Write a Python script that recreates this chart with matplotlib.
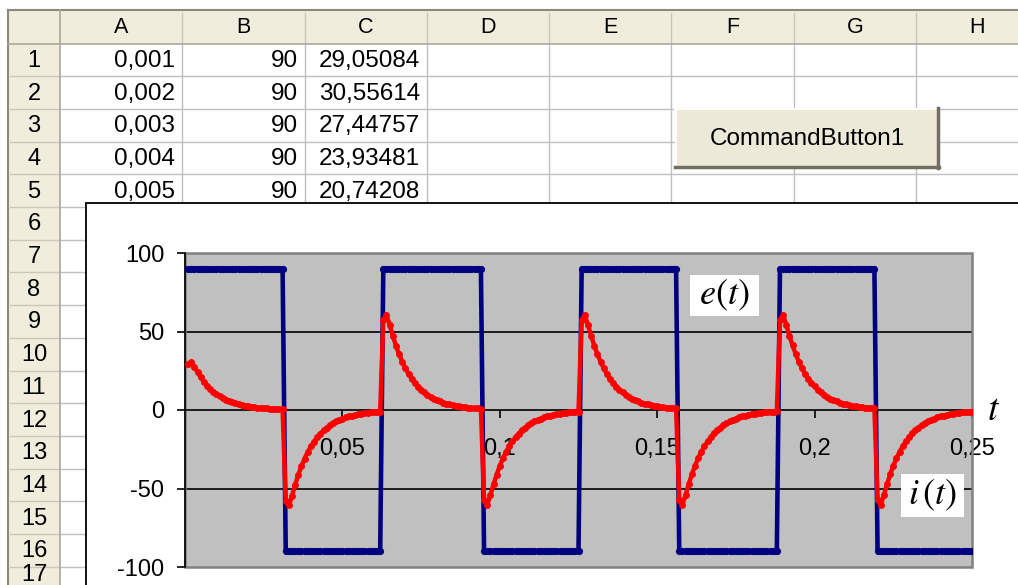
import numpy as np
import matplotlib.pyplot as plt
from matplotlib.patches import Rectangle

plt.rcParams['font.family'] = ['Liberation Sans', 'DejaVu Sans']
plt.rcParams['mathtext.fontset'] = 'stix'

# sheet data: A = t, B = e(t), C = i(t)
t = np.arange(1, 251) / 1000
e_t = ([90] * 31 + [-90] * 31 + [90] * 32 + [-90] * 31 +
       [90] * 31 + [-90] * 32 + [90] * 31 + [-90] * 31)
i_t = [
    29.05084, 30.55614, 27.44757, 23.93481, 20.74208, 17.97, 15.56, 13.46, 11.65, 10.09,
    8.73, 7.56, 6.54, 5.66, 4.90, 4.24, 3.67, 3.18, 2.75, 2.38,
    2.06, 1.78, 1.54, 1.33, 1.16, 1.00, 0.87, 0.75, 0.65, 0.56,
    0.49,
    -57.68, -60.74, -54.59, -47.61, -41.28, -35.74, -30.94, -26.77, -23.17, -20.07,
    -17.36, -15.04, -13.01, -11.26, -9.75, -8.43, -7.30, -6.33, -5.47, -4.73,
    -4.10, -3.54, -3.06, -2.64, -2.31, -1.99, -1.73, -1.49, -1.29, -1.11,
    -0.97,
    57.26, 60.37, 54.27, 47.34, 41.05, 35.53, 30.77, 26.61, 23.04, 19.95,
    17.26, 14.95, 12.93, 11.19, 9.69, 8.38, 7.26, 6.29, 5.44, 4.71,
    4.07, 3.52, 3.05, 2.63, 2.29, 1.98, 1.72, 1.48, 1.29, 1.11,
    0.97, 0.83,
    -57.38, -60.48, -54.36, -47.41, -41.12, -35.59, -30.82, -26.66, -23.07, -19.98,
    -17.29, -14.97, -12.95, -11.21, -9.71, -8.40, -7.27, -6.30, -5.45, -4.71,
    -4.08, -3.53, -3.05, -2.63, -2.30, -1.98, -1.72, -1.49, -1.29, -1.11,
    -0.97,
    57.27, 60.38, 54.28, 47.35, 41.06, 35.54, 30.78, 26.62, 23.05, 19.96,
    17.27, 14.96, 12.94, 11.20, 9.70, 8.39, 7.27, 6.30, 5.45, 4.72,
    4.08, 3.53, 3.05, 2.64, 2.29, 1.98, 1.72, 1.49, 1.29, 1.11,
    0.97,
    -57.27, -60.38, -54.28, -47.34, -41.06, -35.54, -30.77, -26.62, -23.04, -19.96,
    -17.27, -14.95, -12.94, -11.20, -9.69, -8.39, -7.26, -6.29, -5.44, -4.71,
    -4.08, -3.52, -3.05, -2.63, -2.30, -1.98, -1.72, -1.49, -1.29, -1.11,
    -0.97, -0.83,
    57.38, 60.48, 54.36, 47.41, 41.12, 35.59, 30.82, 26.66, 23.07, 19.98,
    17.29, 14.97, 12.95, 11.21, 9.71, 8.40, 7.27, 6.30, 5.45, 4.71,
    4.08, 3.53, 3.05, 2.63, 2.30, 1.98, 1.72, 1.49, 1.29, 1.11,
    0.97,
    -57.26, -60.37, -54.27, -47.34, -41.05, -35.53, -30.77, -26.61, -23.04, -19.95,
    -17.26, -14.95, -12.93, -11.19, -9.69, -8.38, -7.26, -6.29, -5.44, -4.71,
    -4.07, -3.52, -3.05, -2.63, -2.29, -1.98, -1.72, -1.48, -1.29, -1.11,
    -0.97,
]

col_names = ['A', 'B', 'C', 'D', 'E', 'F', 'G', 'H']
n_rows = 17
n_shown = 5  # rows of data visible above the chart

y_ticks = [-100, -50, 0, 50, 100]
x_ticks = [0.05, 0.1, 0.15, 0.2, 0.25]
x_labels = ['0,05', '0,1', '0,15', '0,2', '0,25']

W, H = 1018, 585
fig = plt.figure(figsize=(W / 100, H / 100), dpi=100)

# spreadsheet background, pixel coordinates
bg = fig.add_axes([0, 0, 1, 1], zorder=0)
bg.set_xlim(0, W)
bg.set_ylim(H, 0)
bg.axis('off')

head_col = '#F0EDDD'
grid_col = '#C0C0C0'
hdr_top, hdr_bot = 10, 43.5
row_h = 32.7
col_x = [60 + 122.3 * k for k in range(len(col_names) + 1)]
row_y = [hdr_bot + row_h * k for k in range(n_rows + 1)]

bg.add_patch(Rectangle((8, hdr_top), W, hdr_bot - hdr_top, fc=head_col, ec='none'))
bg.add_patch(Rectangle((8, hdr_bot), 52, H, fc=head_col, ec='none'))
for y in row_y[1:]:
    bg.plot([60, W], [y, y], color=grid_col, lw=1)
    bg.plot([10, 58], [y, y], color='#CBC7B8', lw=1)
for x in col_x[1:]:
    bg.plot([x, x], [hdr_bot, H], color=grid_col, lw=1)
    bg.plot([x, x], [hdr_top + 3, hdr_bot - 2], color='#CBC7B8', lw=1)
bg.plot([8, W], [hdr_top, hdr_top], color='#8C8A7E', lw=1.5)
bg.plot([8, 8], [hdr_top, H], color='#8C8A7E', lw=1.5)
bg.plot([8, W], [hdr_bot, hdr_bot], color='#ACA899', lw=1.2)
bg.plot([60, 60], [hdr_top, H], color='#ACA899', lw=1.2)

for k, name in enumerate(col_names):
    bg.text((col_x[k] + col_x[k + 1]) / 2, 27.5, name, ha='center', va='center', fontsize=15.5)
for r in range(n_rows):
    yc = min((row_y[r] + row_y[r + 1]) / 2 + 1, H - 10)
    bg.text(34, yc, str(r + 1), ha='center', va='center', fontsize=17)

for r in range(n_shown):
    yc = (row_y[r] + row_y[r + 1]) / 2 + 1
    cells = [f'{t[r]:.3f}'.replace('.', ','), str(e_t[r]), f'{i_t[r]:.5f}'.replace('.', ',')]
    for k, txt in enumerate(cells):
        bg.text(col_x[k + 1] - 7, yc, txt, ha='right', va='center', fontsize=17.5)

# command button
bx, by, bw, bh = 675, 108, 264, 60
bg.add_patch(Rectangle((bx, by), bw, bh, fc='#ECE9D8', ec='none', zorder=3))
bg.plot([bx, bx + bw], [by + 1, by + 1], color='white', lw=1.5, zorder=4)
bg.plot([bx + 1, bx + 1], [by, by + bh], color='white', lw=1.5, zorder=4)
bg.plot([bx, bx + bw], [by + bh - 1, by + bh - 1], color='#716F64', lw=2.5, zorder=4)
bg.plot([bx + bw - 1, bx + bw - 1], [by, by + bh], color='#716F64', lw=2.5, zorder=4)
bg.text(bx + bw / 2, by + bh / 2 + 1, 'CommandButton1', ha='center', va='center',
        fontsize=17.5, zorder=5)

# chart area
bg.add_patch(Rectangle((86, 203), 1000, 500, fc='white', ec='black', lw=1.3, zorder=6))

# plot area
px0, px1, py0, py1 = 185, 972, 253, 567
ax = fig.add_axes([px0 / W, 1 - py1 / H, (px1 - px0) / W, (py1 - py0) / H], zorder=1)
ax.set_facecolor('#C0C0C0')
ax.set_xlim(0, 0.25)
ax.set_ylim(-100, 100)
for y in (50, -50):
    ax.axhline(y, color='black', lw=1.2, zorder=2)
ax.plot(t, e_t, color='#000080', lw=3.3, marker='o', ms=5.2, mec='none', zorder=3)
ax.plot(t, i_t, color='#FF0000', lw=3.2, marker='o', ms=5.0, mec='none', zorder=4)

ax.add_patch(Rectangle((0, 0), 1, 1, transform=ax.transAxes, fill=False,
                       ec='#808080', lw=1.8, clip_on=False, zorder=2.4))
ax.spines['top'].set_visible(False)
ax.spines['right'].set_visible(False)
ax.spines['bottom'].set_position(('data', 0))
ax.spines['bottom'].set_linewidth(1.2)
ax.spines['left'].set_linewidth(1.2)

ax.set_yticks(y_ticks)
ax.set_yticklabels([str(v) for v in y_ticks])
ax.set_xticks(x_ticks)
ax.set_xticklabels(x_labels)
ax.tick_params(direction='out', length=6, width=1.2, labelsize=17)
ax.tick_params(axis='y', pad=9)
ax.tick_params(axis='x', pad=14)

# overlay labels, pixel coordinates
fg = fig.add_axes([0, 0, 1, 1], zorder=5)
fg.set_xlim(0, W)
fg.set_ylim(H, 0)
fg.axis('off')
fg.patch.set_alpha(0)
fg.add_patch(Rectangle((690, 275), 69, 41, fc='white', ec='none'))
fg.text(724.5, 295, r'$e(t)$', ha='center', va='center', fontsize=26)
fg.add_patch(Rectangle((901, 474), 63, 43, fc='white', ec='none'))
fg.text(932.5, 495, r'$i\,(t)$', ha='center', va='center', fontsize=26)
fg.text(994, 410, r'$t$', ha='center', va='center', fontsize=27)

fig.savefig('out.png', dpi=100)
